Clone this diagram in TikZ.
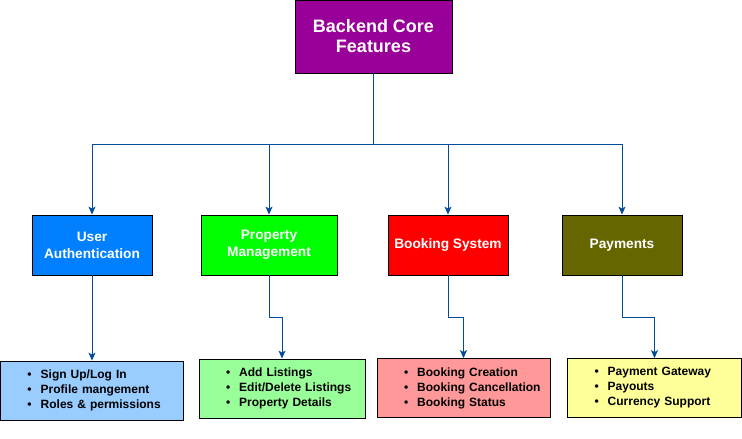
\documentclass[tikz,border=0pt]{standalone}
\usepackage{fontspec}
\setmainfont{Liberation Sans}
\usetikzlibrary{arrows.meta}
\definecolor{linkblue}{HTML}{004C99}
\newcommand{\bul}{\hspace*{27pt}\textbullet\hspace{9pt}}

\begin{document}
\begin{tikzpicture}[x=1pt, y=-1pt,
    box/.style={draw=black, line width=0.8pt, align=center, inner sep=0pt, font=\bfseries},
    head/.style={box, text=white, minimum width=120pt, minimum height=60pt, font=\fontsize{13.7}{17}\selectfont\bfseries},
    list/.style={box, align=left, text width=#1, minimum height=59pt, font=\fontsize{12}{15}\selectfont\bfseries},
    link/.style={draw=linkblue, line width=1pt},
    arr/.style={link, -{Stealth[length=8pt, width=7pt, inset=2pt]}}]
    \useasboundingbox (0,0) rectangle (742,439);

    \node (core) [box, fill={rgb,255:red,153;green,0;blue,153}, text=white, minimum width=157pt, minimum height=73pt,
        font=\fontsize{18}{20}\selectfont\bfseries] at (373.5,36.5) {Backend Core\\Features};

    \node (auth) [head, fill={rgb,255:red,0;green,127;blue,255}] at (92,245) {User\\Authentication};
    \node (prop) [head, fill={rgb,255:red,0;green,255;blue,0}, minimum width=136pt] at (269,245) {Property\\Management};
    \node (book) [head, fill={rgb,255:red,255;green,0;blue,0}] at (448,245) {Booking System};
    \node (pay) [head, fill={rgb,255:red,102;green,102;blue,0}] at (622,245) {Payments};

    \node (authlist) [list=183pt, fill={rgb,255:red,153;green,204;blue,255}] at (92,390.5)
        {\bul Sign Up/Log In\\\bul Profile mangement\\\bul Roles \& permissions};
    \node (proplist) [list=166pt, fill={rgb,255:red,153;green,255;blue,153}] at (282,388.5)
        {\bul Add Listings\\\bul Edit/Delete Listings\\\bul Property Details};
    \node (booklist) [list=173pt, fill={rgb,255:red,255;green,153;blue,153}] at (463.5,388)
        {\bul Booking Creation\\\bul Booking Cancellation\\\bul Booking Status};
    \node (paylist) [list=174pt, fill={rgb,255:red,255;green,255;blue,153}] at (654.5,388)
        {\bul Payment Gateway\\\bul Payouts\\\bul Currency Support};

    \coordinate (bus) at (373.5,144);
    \draw[arr] (core.south) -- (bus) -| (auth.north);
    \draw[arr] (core.south) -- (bus) -| (prop.north);
    \draw[arr] (core.south) -- (bus) -| (book.north);
    \draw[arr] (core.south) -- (bus) -| (pay.north);

    \draw[arr] (auth.south) -- (authlist.north);
    \draw[arr] (prop.south) -- ++(0,42) -| (proplist.north);
    \draw[arr] (book.south) -- ++(0,42) -| (booklist.north);
    \draw[arr] (pay.south) -- ++(0,42) -| (paylist.north);
\end{tikzpicture}
\end{document}
